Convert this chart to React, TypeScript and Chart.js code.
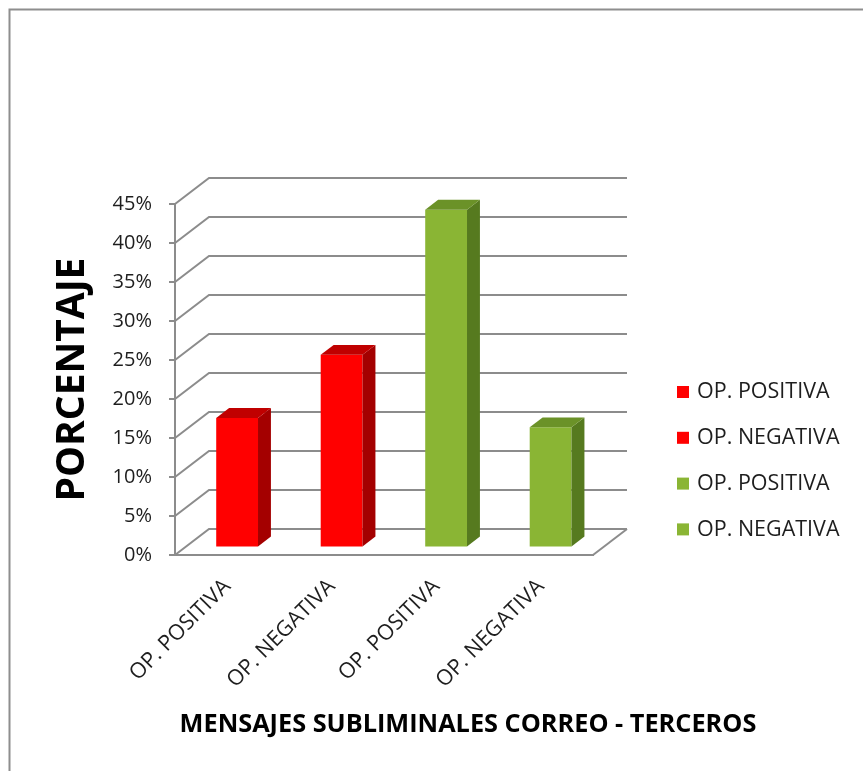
import React, { useEffect, useRef } from 'react';
import { Chart, registerables } from 'chart.js';

Chart.register(...registerables);

// ---- data ----
const categories = ['OP. POSITIVA', 'OP. NEGATIVA', 'OP. POSITIVA', 'OP. NEGATIVA'];
const values = [16.6, 24.7, 43.3, 15.4];
const frontColors = ['#FF0000', '#FF0000', '#8AB534', '#8AB534'];
const topColors = ['#C00000', '#C00000', '#6B9228', '#6B9228'];
const sideColors = ['#A40000', '#A40000', '#567A1F', '#567A1F'];
const yMax = 45;
const yStep = 5;
const yTitle = 'PORCENTAJE';
const xTitle = 'MENSAJES SUBLIMINALES CORREO - TERCEROS';

// ---- styling ----
const FONT = "'Open Sans', sans-serif";
const GRID = '#8c8c8c';
const TEXT = '#1e1e1e';
const DX = 34; // back wall depth offset
const DY = -26;
const F = 0.29; // bar front depth fraction
const B = 0.67; // bar back depth fraction

const threeD = {
  id: 'threeD',
  beforeDraw(chart: any) {
    const { ctx, width, height } = chart;
    ctx.save();
    ctx.fillStyle = '#ffffff';
    ctx.fillRect(0, 0, width, height);
    ctx.strokeStyle = '#8e8e8e';
    ctx.lineWidth = 2;
    ctx.beginPath();
    ctx.moveTo(9.5, height);
    ctx.lineTo(9.5, 9.5);
    ctx.lineTo(width, 9.5);
    ctx.stroke();
    ctx.restore();
  },
  beforeDatasetsDraw(chart: any) {
    const { ctx, chartArea, scales } = chart;
    const { left, right, bottom } = chartArea;
    const y = scales.y;
    ctx.save();
    ctx.strokeStyle = GRID;
    ctx.lineWidth = 2;
    y.ticks.forEach((t: any) => {
      const py = y.getPixelForValue(t.value);
      ctx.beginPath();
      ctx.moveTo(left, py);
      ctx.lineTo(left + DX, py + DY);
      ctx.lineTo(right + DX, py + DY);
      ctx.stroke();
    });
    ctx.beginPath();
    ctx.moveTo(right, bottom);
    ctx.lineTo(right + DX, bottom + DY);
    ctx.stroke();
    ctx.restore();
    ctx.save();
    ctx.translate(DX * F, DY * F);
  },
  afterDatasetsDraw(chart: any) {
    const { ctx } = chart;
    ctx.restore();
    const meta = chart.getDatasetMeta(0);
    const ddx = DX * (B - F);
    const ddy = DY * (B - F);
    ctx.save();
    meta.data.forEach((bar: any, i: number) => {
      const { x, y, base, width } = bar.getProps(['x', 'y', 'base', 'width'], true);
      const l = x - width / 2 + DX * F;
      const r = x + width / 2 + DX * F;
      const t = y + DY * F;
      const b = base + DY * F;
      ctx.fillStyle = sideColors[i];
      ctx.beginPath();
      ctx.moveTo(r, t);
      ctx.lineTo(r + ddx, t + ddy);
      ctx.lineTo(r + ddx, b + ddy);
      ctx.lineTo(r, b);
      ctx.closePath();
      ctx.fill();
      ctx.fillStyle = topColors[i];
      ctx.beginPath();
      ctx.moveTo(l, t);
      ctx.lineTo(l + ddx, t + ddy);
      ctx.lineTo(r + ddx, t + ddy);
      ctx.lineTo(r, t);
      ctx.closePath();
      ctx.fill();
    });
    ctx.restore();
  },
  afterDraw(chart: any) {
    const { ctx } = chart;
    ctx.save();
    // legend
    ctx.font = `21.5px ${FONT}`;
    ctx.textBaseline = 'middle';
    ctx.textAlign = 'left';
    categories.forEach((c, i) => {
      const cy = 392 + i * 45.8;
      ctx.fillStyle = frontColors[i];
      ctx.fillRect(677, cy - 6, 12, 12);
      ctx.fillStyle = TEXT;
      ctx.fillText(c, 697, cy);
    });
    // x title
    ctx.font = `bold 25.3px ${FONT}`;
    ctx.textAlign = 'center';
    ctx.fillStyle = '#000';
    ctx.fillText(xTitle, 468, 725);
    ctx.restore();
  },
};

export default function App() {
  const ref = useRef<HTMLCanvasElement | null>(null);
  useEffect(() => {
    if (!ref.current) return;
    const chart = new Chart(ref.current, {
      type: 'bar',
      data: {
        labels: categories,
        datasets: [
          {
            data: values,
            backgroundColor: frontColors,
            borderWidth: 0,
            categoryPercentage: 1,
            barPercentage: 0.4,
          },
        ],
      },
      options: {
        responsive: false,
        animation: false,
        layout: { padding: { left: 0, top: 204, right: 270, bottom: 0 } },
        plugins: { legend: { display: false }, tooltip: { enabled: false } },
        scales: {
          x: {
            grid: { display: true, drawOnChartArea: false, drawTicks: false },
            border: { display: true, color: GRID, width: 2 },
            ticks: {
              minRotation: 45,
              maxRotation: 45,
              padding: 19,
              color: TEXT,
              font: { family: FONT, size: 21.5 },
            },
            afterFit(scale: any) {
              scale.height = 216;
            },
          },
          y: {
            min: 0,
            max: yMax,
            ticks: {
              stepSize: yStep,
              padding: 17,
              color: TEXT,
              font: { family: FONT, size: 20 },
              callback: (v: any) => `${v}%`,
            },
            grid: { drawOnChartArea: false, drawTicks: true, tickLength: 6, color: GRID, lineWidth: 2 },
            border: { display: true, color: GRID, width: 2 },
            title: {
              display: true,
              text: yTitle,
              color: '#000',
              font: { family: FONT, size: 39, weight: 'bold', lineHeight: 1.2 },
              padding: { top: 49, bottom: 0 },
            },
            afterFit(scale: any) {
              scale.width = 175;
            },
          },
        },
      },
      plugins: [threeD],
    });
    return () => chart.destroy();
  }, []);
  return (
    <div style={{ position: 'absolute', left: 0, top: 0, width: 863, height: 771 }}>
      <canvas ref={ref} width={863} height={771} style={{ display: 'block' }} />
    </div>
  );
}
